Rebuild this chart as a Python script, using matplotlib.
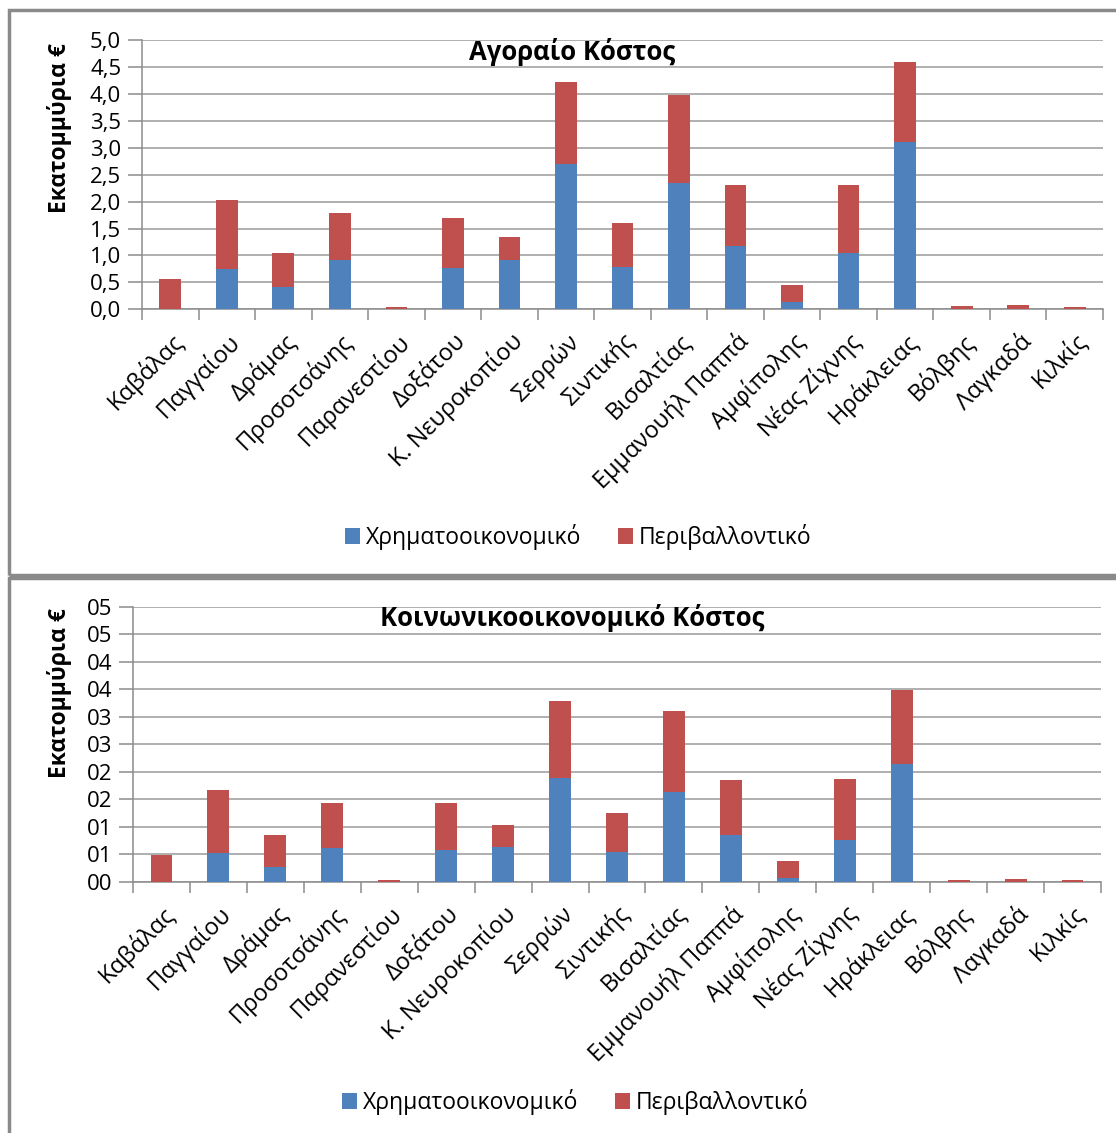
import numpy as np
import matplotlib.pyplot as plt
from matplotlib.patches import Rectangle

plt.rcParams['font.family'] = ['Open Sans', 'DejaVu Sans']

# data
places = ['Καβάλας', 'Παγγαίου', 'Δράμας', 'Προσοτσάνης', 'Παρανεστίου', 'Δοξάτου',
          'Κ. Νευροκοπίου', 'Σερρών', 'Σιντικής', 'Βισαλτίας', 'Εμμανουήλ Παππά',
          'Αμφίπολης', 'Νέας Ζίχνης', 'Ηράκλειας', 'Βόλβης', 'Λαγκαδά', 'Κιλκίς']

# market cost (million €)
market_fin = [0.0, 0.75, 0.41, 0.92, 0.0, 0.77, 0.92, 2.70, 0.79, 2.34, 1.18, 0.13, 1.05, 3.10, 0.0, 0.0, 0.0]
market_env = [0.56, 1.28, 0.64, 0.87, 0.04, 0.93, 0.42, 1.52, 0.81, 1.64, 1.12, 0.33, 1.25, 1.50, 0.06, 0.08, 0.04]

# socio-economic cost
socio_fin = [0.0, 0.0052, 0.0027, 0.0062, 0.0, 0.0058, 0.0064, 0.0189, 0.0055, 0.0163, 0.0085,
             0.0008, 0.0076, 0.0215, 0.0, 0.0, 0.0]
socio_env = [0.0049, 0.0115, 0.0058, 0.0082, 0.0003, 0.0086, 0.0040, 0.0140, 0.0071, 0.0148, 0.0100,
             0.0031, 0.0111, 0.0134, 0.0003, 0.0006, 0.0003]

top_ticks = np.arange(0, 5.01, 0.5)
top_ticklabels = ['0,0', '0,5', '1,0', '1,5', '2,0', '2,5', '3,0', '3,5', '4,0', '4,5', '5,0']
bot_ticks = np.arange(0, 0.0501, 0.005)
bot_ticklabels = ['00', '01', '01', '02', '02', '03', '03', '04', '04', '05', '05']

blue = '#4F81BD'
red = '#C0504D'
grey = '#8c8c8c'

W, H = 1116, 1133
fig = plt.figure(figsize=(W / 100, H / 100), dpi=100)

# panel frames
fig.patches.append(Rectangle((9 / W, 1 - 575 / H), 1.2, 565 / H, transform=fig.transFigure,
                             fill=False, ec='#8a8a8a', lw=2.5))
fig.patches.append(Rectangle((9 / W, -0.1), 1.2, 1 - 578 / H + 0.1, transform=fig.transFigure,
                             fill=False, ec='#8a8a8a', lw=2.5))


def draw(rect, fin, env, ticks, ticklabels, title, title_y, ylab_y, leg_y, leg_x):
    ax = fig.add_axes(rect)
    x = np.arange(len(places))
    b1 = ax.bar(x, fin, 0.385, color=blue, zorder=3)
    b2 = ax.bar(x, env, 0.385, bottom=fin, color=red, zorder=3)
    ax.set_xlim(-0.5, len(places) - 0.5)
    ax.set_ylim(ticks[0], ticks[-1])
    ax.set_yticks(ticks)
    ax.set_yticklabels(ticklabels, fontsize=16)
    ax.grid(axis='y', color='#9a9a9a', lw=1.1, zorder=0)
    ax.set_xticks(x)
    ax.set_xticklabels(places, rotation=45, ha='right', rotation_mode='anchor', fontsize=17)
    ax.set_xticks(np.arange(-0.5, len(places)), minor=True)
    ax.tick_params(axis='x', which='major', length=0, pad=14)
    ax.tick_params(axis='x', which='minor', length=8, color=grey, width=1.1)
    ax.tick_params(axis='y', length=10, color=grey, width=1.1, pad=5)
    for s in ['top', 'right']:
        ax.spines[s].set_visible(False)
    for s in ['left', 'bottom']:
        ax.spines[s].set_color(grey)
        ax.spines[s].set_linewidth(1.1)
    fig.text(572 / W, 1 - title_y / H, title, ha='center', va='center',
             fontsize=18.5, fontweight='bold')
    fig.text(60 / W, 1 - ylab_y / H, 'Εκατομμύρια €', ha='center', va='center',
             rotation=90, fontsize=16.5, fontweight='bold')
    fig.legend([b1, b2], ['Χρηματοοικονομικό', 'Περιβαλλοντικό'], loc='center',
               bbox_to_anchor=(leg_x / W, 1 - leg_y / H), ncol=2, frameon=False,
               fontsize=16.5, handlelength=0.65, handleheight=0.65, handletextpad=0.25,
               columnspacing=1.6)
    return ax


draw([142 / W, 1 - 309.3 / H, 961 / W, 269.3 / H], market_fin, market_env,
     top_ticks, top_ticklabels, 'Αγοραίο Κόστος', 52, 128, 537, 578)
draw([133 / W, 1 - 882 / H, 968 / W, 275.3 / H], socio_fin, socio_env,
     bot_ticks, bot_ticklabels, 'Κοινωνικοοικονομικό Κόστος', 618, 693, 1102, 575)

fig.savefig('out.png', dpi=100)
